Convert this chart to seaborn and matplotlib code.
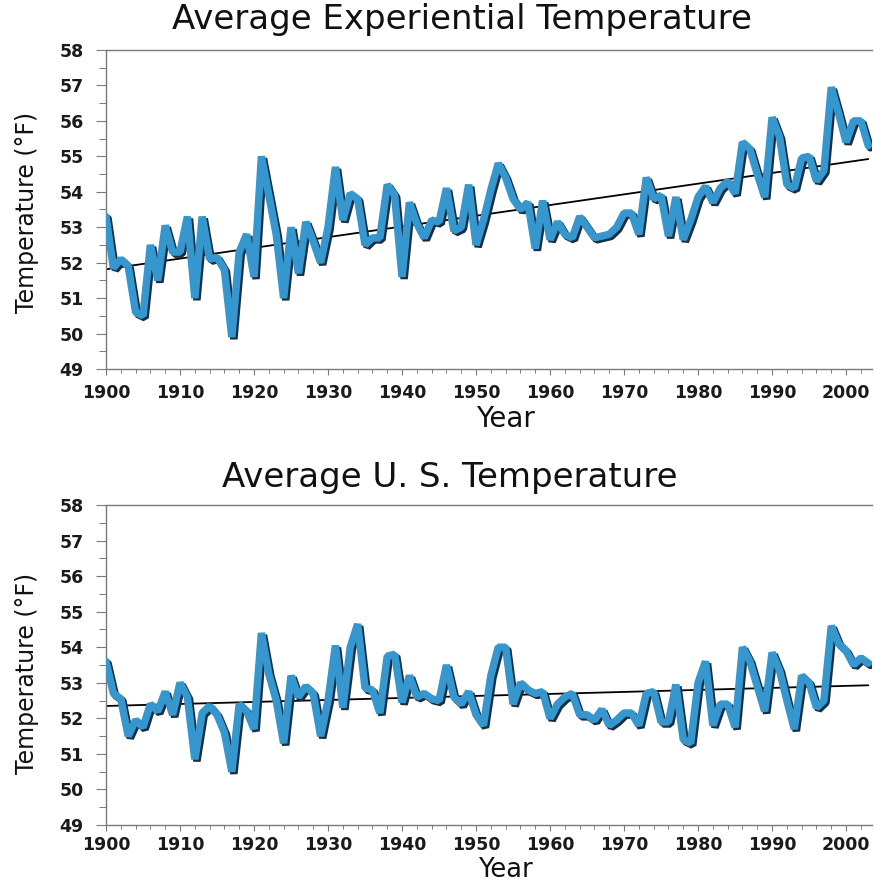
import numpy as np
import pandas as pd
import seaborn as sns
import matplotlib
matplotlib.use("Agg")
import matplotlib.pyplot as plt
import matplotlib.patheffects as pe
from matplotlib.ticker import MultipleLocator

# Annual mean temperature (°F), 1900-2003
years = list(range(1900, 2004))

experiential_temp = [
    53.3, 51.85, 52.1, 51.9, 50.6, 50.5, 52.5, 51.5, 53.05, 52.3,   # 1900s
    52.3, 53.3, 51.0, 53.3, 52.1, 52.15, 51.8, 49.9, 52.3, 52.8,    # 1910s
    51.6, 55.0, 53.9, 52.8, 51.0, 53.0, 51.7, 53.15, 52.6, 52.0,    # 1920s
    53.0, 54.7, 53.2, 53.95, 53.8, 52.5, 52.7, 52.7, 54.2, 53.9,    # 1930s
    51.6, 53.7, 53.1, 52.7, 53.2, 53.15, 54.1, 52.9, 53.0, 54.2,    # 1940s
    52.5, 53.2, 54.05, 54.8, 54.4, 53.8, 53.5, 53.7, 52.4, 53.75,   # 1950s
    52.65, 53.15, 52.8, 52.7, 53.3, 53.0, 52.7, 52.75, 52.8, 53.0,  # 1960s
    53.4, 53.4, 52.8, 54.4, 53.8, 53.9, 52.75, 53.85, 52.65, 53.2,  # 1970s
    53.85, 54.15, 53.7, 54.1, 54.3, 53.95, 55.4, 55.2, 54.5, 53.85, # 1980s
    56.1, 55.55, 54.2, 54.1, 54.95, 55.0, 54.3, 54.6, 56.95, 56.2,  # 1990s
    55.4, 56.0, 56.0, 55.3,                                         # 2000s
]

us_temp = [
    53.6, 52.7, 52.55, 51.5, 51.95, 51.75, 52.4, 52.2, 52.75, 52.1,  # 1900s
    53.0, 52.6, 50.85, 52.15, 52.35, 52.1, 51.6, 50.5, 52.4, 52.2,   # 1910s
    51.7, 54.4, 53.25, 52.5, 51.3, 53.2, 52.6, 52.9, 52.7, 51.5,     # 1920s
    52.5, 54.05, 52.3, 54.0, 54.65, 52.85, 52.8, 52.15, 53.75, 53.8, # 1930s
    52.45, 53.2, 52.6, 52.7, 52.55, 52.5, 53.5, 52.6, 52.4, 52.75,   # 1940s
    52.1, 51.8, 53.2, 54.0, 54.0, 52.4, 53.0, 52.8, 52.7, 52.75,     # 1950s
    52.0, 52.4, 52.6, 52.7, 52.1, 52.1, 51.95, 52.25, 51.8, 51.95,   # 1960s
    52.15, 52.15, 51.8, 52.7, 52.75, 51.9, 51.9, 52.95, 51.4, 51.3,  # 1970s
    53.0, 53.6, 51.8, 52.4, 52.4, 51.75, 54.0, 53.6, 52.9, 52.2,     # 1980s
    53.85, 53.35, 52.5, 51.7, 53.2, 53.0, 52.3, 52.5, 54.6, 54.1,    # 1990s
    53.9, 53.5, 53.7, 53.55,                                         # 2000s
]

panel_titles = ["Average Experiential Temperature", "Average U. S. Temperature"]
x_label = "Year"
y_label = "Temperature (°F)"

LINE_BLUE = "#3597cd"
SHADOW = "#1a2d42"
AXIS_GREY = "#7a7a7a"

sns.set_theme(style="ticks")
plt.rcParams["font.family"] = ["DejaVu Sans"]

fig = plt.figure(figsize=(8.74, 8.84), dpi=100)
fig.patch.set_facecolor("white")

axes_rects = [
    [106 / 874, 1 - 369 / 884, 766 / 874, 319 / 884],
    [106 / 874, 1 - 825 / 884, 766 / 874, 320 / 884],
]
title_y = [1 - 19 / 884, 1 - 478 / 884]
title_x = [462 / 874, 450 / 874]
ylabel_y = [0.492, 0.475]
xlabel_y = [-0.112, -0.099]
xlabel_size = [20, 18.5]
xtick_pad = [6, 3.5]

for i, (series, title) in enumerate(zip([experiential_temp, us_temp], panel_titles)):
    ax = fig.add_axes(axes_rects[i])
    df = pd.DataFrame({"Year": years, "Temperature": series})

    # least-squares trend line
    sns.regplot(data=df, x="Year", y="Temperature", ax=ax, scatter=False,
                ci=None, truncate=True,
                line_kws=dict(color="black", lw=1.3, zorder=2))

    # annual series with a drop shadow
    sns.lineplot(data=df, x="Year", y="Temperature", ax=ax, color=LINE_BLUE,
                 lw=5.4, zorder=3, solid_joinstyle="bevel",
                 path_effects=[pe.SimpleLineShadow(offset=(1.5, -1.5),
                                                   shadow_color=SHADOW, alpha=1.0),
                               pe.Normal()])

    ax.set_xlim(1900, 2003.5)
    ax.set_ylim(49, 58)
    ax.xaxis.set_major_locator(MultipleLocator(10))
    ax.xaxis.set_minor_locator(MultipleLocator(2))
    ax.yaxis.set_major_locator(MultipleLocator(1))
    ax.yaxis.set_minor_locator(MultipleLocator(0.5))

    ax.tick_params(axis="x", which="major", direction="out", length=4.5,
                   width=0.8, color=AXIS_GREY, pad=xtick_pad[i], labelsize=12.5)
    ax.tick_params(axis="x", which="minor", direction="out", length=2.8,
                   width=0.7, color=AXIS_GREY)
    ax.tick_params(axis="y", which="major", direction="out", length=7,
                   width=0.8, color=AXIS_GREY, pad=9, labelsize=12.5)
    ax.tick_params(axis="y", which="minor", direction="out", length=5,
                   width=0.7, color=AXIS_GREY)
    for lbl in ax.get_xticklabels() + ax.get_yticklabels():
        lbl.set_fontweight("bold")
        lbl.set_color("#1a1a1a")

    for side in ["left", "bottom", "top"]:
        ax.spines[side].set_color(AXIS_GREY)
        ax.spines[side].set_linewidth(1.0)
    ax.spines["right"].set_visible(False)

    ax.set_xlabel(x_label, fontsize=xlabel_size[i], color="#111111")
    ax.xaxis.set_label_coords(0.521, xlabel_y[i])
    ax.xaxis.label.set_va("top")
    ax.set_ylabel(y_label, fontsize=17, color="#111111")
    ax.yaxis.set_label_coords(-0.088, ylabel_y[i])

    fig.text(title_x[i], title_y[i], title, ha="center", va="center",
             fontsize=24.5, color="#111111")

fig.savefig("out.png", dpi=100, facecolor="white")
